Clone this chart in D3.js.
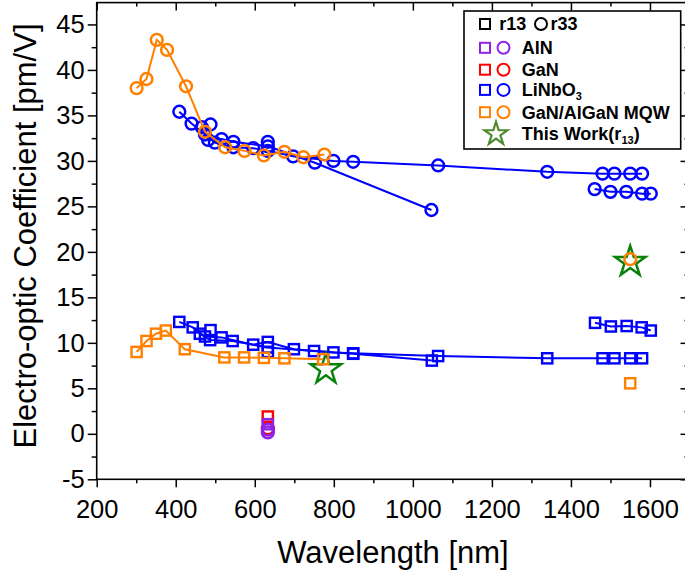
<!DOCTYPE html>
<html>
<head>
<meta charset="utf-8">
<script src="https://cdn.jsdelivr.net/npm/d3@7"></script>
<style>
  html, body { margin: 0; padding: 0; background: #fff; }
  svg { display: block; font-family: "Liberation Sans", Arial, sans-serif; }
</style>
</head>
<body>
<svg id="chart" width="685" height="577"></svg>
<script>
// Electro-optic coefficients [pm/V] versus wavelength [nm]; each entry is [wavelength, value]

// GaN/AlGaN MQW
const mqwR33 = [[301,38.0],[326,39.0],[352,43.3],[378,42.2],[426,38.2],[474,33.2],[525,31.5],[574,31.1],[623,30.6],[675,31.0],[723,30.4],[776,30.7]];
const mqwR13 = [[301,9.0],[326,10.2],[350,11.0],[375,11.35],[423,9.3],[523,8.4],[573,8.4],[623,8.35],[675,8.3],[773,8.2]];
const mqwR33Single = [[1550,19.2]];
const mqwR13Single = [[1550,5.55]];

// LiNbO3 r33
const lnR33a = [[409,35.4],[440,34.1],[474,32.9],[499,32.0],[546,31.5],[596,31.4],[633,31.1],[697,30.5],[799,30.0],[849,29.9],[1064,29.5],[1340,28.8],[1480,28.6],[1510,28.6],[1550,28.6],[1580,28.6]];
const lnR33b = [[466,33.7],[482,32.3],[516,32.4],[546,32.1],[633,31.6],[752,29.8],[1047,24.6]];
const lnR33c = [[1460,26.9],[1500,26.6],[1540,26.6],[1580,26.4],[1602,26.4]];
const lnR33Single = [[488,34.0],[633,32.1]];

// LiNbO3 r13
const lnR13a = [[409,12.3],[443,11.7],[474,10.7],[516,10.6],[596,9.8],[633,10.1],[699,9.3],[799,8.95],[849,8.85],[1064,8.55],[1340,8.3],[1480,8.3],[1510,8.3],[1550,8.3],[1580,8.3]];
const lnR13b = [[461,11.0],[487,10.3],[544,10.2],[633,9.5],[750,9.1],[849,8.8],[1048,8.05]];
const lnR13c = [[1461,12.2],[1501,11.8],[1541,11.85],[1579,11.7],[1602,11.35]];
const lnR13Single = [[488,11.4],[633,9.0]];

// GaN and AlN bulk at 633 nm
const ganR13 = [[633,1.9]];
const ganR33 = [[633,0.6]];
const alnR13 = [[633,1.05]];
const alnR33 = [[633,0.15],[633,0.45]];

// This work (r13)
const thisWork = [[780,7.1],[1550,18.9]];

// Axis ticks
const xTicks = [200,400,600,800,1000,1200,1400,1600];
const xMinor = [300,500,700,900,1100,1300,1500,1700];
const yTicks = [-5,0,5,10,15,20,25,30,35,40,45];
const yMinor = [-2.5,2.5,7.5,12.5,17.5,22.5,27.5,32.5,37.5,42.5];

const colors = { aln: "#8f22e6", gan: "#ff0000", ln: "#0000ff", mqw: "#ff8000", star: "#0a820a", starLegend: "#4f8a30" };

const svg = d3.select("#chart");
const frameL = 96.7, frameR = 689.5, frameT = 2.6, frameB = 479.3;
const x = d3.scaleLinear().domain([200, 1700]).range([frameL, frameR]);
const y = d3.scaleLinear().domain([-5, 47.4]).range([frameB, frameT]);

const tickFont = 25.5;
const plain = d => String(d);   // keeps an ASCII hyphen for negatives

// Left axis (labels, outward ticks)
const gl = svg.append("g").attr("transform", `translate(${frameL},0)`)
  .call(d3.axisLeft(y).tickValues(yTicks).tickSize(9).tickPadding(3).tickFormat(plain));
const glm = svg.append("g").attr("transform", `translate(${frameL},0)`)
  .call(d3.axisLeft(y).tickValues(yMinor).tickSize(5).tickFormat(""));
// Bottom axis
const gb = svg.append("g").attr("transform", `translate(0,${frameB})`)
  .call(d3.axisBottom(x).tickValues(xTicks).tickSize(8).tickPadding(13).tickFormat(plain));
const gbm = svg.append("g").attr("transform", `translate(0,${frameB})`)
  .call(d3.axisBottom(x).tickValues(xMinor).tickSize(4).tickFormat(""));
// Top and right mirror axes with inward ticks
const gt = svg.append("g").attr("transform", `translate(0,${frameT})`)
  .call(d3.axisBottom(x).tickValues(xTicks).tickSize(8).tickFormat(""));
const gtm = svg.append("g").attr("transform", `translate(0,${frameT})`)
  .call(d3.axisBottom(x).tickValues(xMinor).tickSize(4).tickFormat(""));
const gr = svg.append("g").attr("transform", `translate(${frameR},0)`)
  .call(d3.axisLeft(y).tickValues(yTicks).tickSize(9).tickFormat(""));
const grm = svg.append("g").attr("transform", `translate(${frameR},0)`)
  .call(d3.axisLeft(y).tickValues(yMinor).tickSize(5).tickFormat(""));

[gl, glm, gb, gbm, gt, gtm, gr, grm].forEach(g => {
  g.select(".domain").remove();
  g.selectAll(".tick line").attr("stroke", "#000").attr("stroke-width", 1.5);
  g.selectAll(".tick text").attr("fill", "#000").style("font-size", tickFont + "px")
    .style("font-family", '"Liberation Sans", Arial, sans-serif');
});

// Plot frame
svg.append("rect")
  .attr("x", frameL).attr("y", frameT)
  .attr("width", frameR - frameL).attr("height", frameB - frameT)
  .attr("fill", "none").attr("stroke", "#000").attr("stroke-width", 1.6);

// Axis titles
svg.append("text")
  .attr("transform", `translate(36,236) rotate(-90)`)
  .attr("text-anchor", "middle")
  .style("font-size", "31px")
  .text("Electro-optic Coefficient [pm/V]");
svg.append("text")
  .attr("x", 393).attr("y", 563)
  .attr("text-anchor", "middle")
  .style("font-size", "31px")
  .text("Wavelength [nm]");

const plot = svg.append("g");
const line = d3.line().x(d => x(d[0])).y(d => y(d[1]));

function drawLine(data, color) {
  plot.append("path").datum(data)
    .attr("d", line)
    .attr("fill", "none").attr("stroke", color).attr("stroke-width", 2);
}
function drawCircles(data, color) {
  plot.append("g").selectAll("circle").data(data).join("circle")
    .attr("cx", d => x(d[0])).attr("cy", d => y(d[1])).attr("r", 5.9)
    .attr("fill", "none").attr("stroke", color).attr("stroke-width", 2.5);
}
function drawSquares(data, color) {
  const s = 10.2;
  plot.append("g").selectAll("rect").data(data).join("rect")
    .attr("x", d => x(d[0]) - s / 2).attr("y", d => y(d[1]) - s / 2)
    .attr("width", s).attr("height", s)
    .attr("fill", "none").attr("stroke", color).attr("stroke-width", 2.4);
}

// LiNbO3
[lnR33a, lnR33b, lnR33c, lnR13a, lnR13b, lnR13c].forEach(s => drawLine(s, colors.ln));
[lnR33a, lnR33b, lnR33c, lnR33Single].forEach(s => drawCircles(s, colors.ln));
[lnR13a, lnR13b, lnR13c, lnR13Single].forEach(s => drawSquares(s, colors.ln));

// This work stars
plot.append("g").selectAll("path").data(thisWork).join("path")
  .attr("transform", d => `translate(${x(d[0])},${y(d[1])})`)
  .attr("d", d3.symbol().type(d3.symbolStar).size(287)())
  .attr("fill", "none").attr("stroke", colors.star).attr("stroke-width", 2.5)
  .attr("stroke-linejoin", "miter");

// GaN/AlGaN MQW
drawLine(mqwR33, colors.mqw);
drawLine(mqwR13, colors.mqw);
drawCircles(mqwR33, colors.mqw);
drawSquares(mqwR13, colors.mqw);
drawCircles(mqwR33Single, colors.mqw);
drawSquares(mqwR13Single, colors.mqw);

// Bulk GaN and AlN
drawSquares(ganR13, colors.gan);
drawCircles(ganR33, colors.gan);
drawSquares(alnR13, colors.aln);
drawCircles(alnR33, colors.aln);

// Legend
const lg = svg.append("g");
lg.append("rect").attr("x", 464).attr("y", 11).attr("width", 216.7).attr("height", 138)
  .attr("fill", "#fff").attr("stroke", "#000").attr("stroke-width", 1.6);

const legFont = 18;
function legSquare(cx, cy, color) {
  lg.append("rect").attr("x", cx - 5).attr("y", cy - 5).attr("width", 10).attr("height", 10)
    .attr("fill", "none").attr("stroke", color).attr("stroke-width", 2);
}
function legCircle(cx, cy, color) {
  lg.append("circle").attr("cx", cx).attr("cy", cy).attr("r", 6)
    .attr("fill", "none").attr("stroke", color).attr("stroke-width", 2);
}
function legText(tx, cy) {
  return lg.append("text").attr("x", tx).attr("y", cy + 6.4)
    .style("font-size", legFont + "px").style("font-weight", "bold");
}

const rows = [24, 47.8, 69.7, 89.9, 112.2, 133.5];
legSquare(485, rows[0], "#000");
legText(499.3, rows[0]).text("r13");
legCircle(541, rows[0], "#000");
legText(550.5, rows[0]).text("r33");

const entries = [
  { label: "AlN", color: colors.aln },
  { label: "GaN", color: colors.gan },
  { label: "LiNbO", sub: "3", color: colors.ln },
  { label: "GaN/AlGaN MQW", color: colors.mqw }
];
entries.forEach((e, i) => {
  const cy = rows[i + 1];
  legSquare(485, cy, e.color);
  legCircle(503.5, cy, e.color);
  const t = legText(521.7, cy);
  t.append("tspan").text(e.label);
  if (e.sub) t.append("tspan").attr("dy", 4).style("font-size", "11px").text(e.sub);
});

lg.append("path")
  .attr("transform", `translate(496,${rows[5] + 0.5})`)
  .attr("d", d3.symbol().type(d3.symbolStar).size(165)())
  .attr("fill", "none").attr("stroke", colors.starLegend).attr("stroke-width", 2.2);
const tw = legText(521.7, rows[5]);
tw.append("tspan").text("This Work(r");
tw.append("tspan").attr("dy", 4).style("font-size", "11px").text("13");
tw.append("tspan").attr("dy", -4).text(")");
</script>
</body>
</html>
